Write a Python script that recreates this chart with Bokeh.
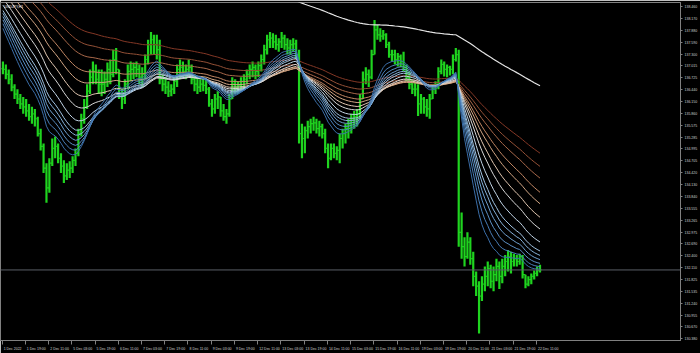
from bokeh.plotting import figure
from bokeh.models import Range1d, FixedTicker, Span, Label
from bokeh.embed import file_html
from bokeh.resources import INLINE

# ---------------- data ----------------
symbol = "USDJPY,H1"
bar_hours = 2            # each drawn bar groups two hourly bars
first_open = 136.95

high = [137.12,137.05,136.93,136.81,136.57,136.45,136.33,136.26,136.21,136.09,
        136.02,135.97,135.78,135.49,135.13,134.65,134.77,135.25,135.30,135.13,
        134.89,134.72,134.65,134.70,134.82,135.01,135.49,135.85,136.21,136.57,
        136.93,137.12,137.05,136.93,136.93,136.88,137.10,137.17,137.41,137.45,
        136.93,136.45,136.69,137.05,137.12,137.10,137.12,137.05,136.98,137.29,
        137.65,137.84,137.77,137.77,137.65,136.81,136.74,136.64,136.57,136.74,
        137.05,137.17,137.12,137.05,137.17,137.05,136.81,136.74,136.69,136.74,
        136.69,136.50,136.21,136.33,136.40,136.26,136.09,135.97,136.33,136.74,
        136.69,136.64,136.74,136.81,136.93,137.05,137.12,137.05,137.12,137.29,
        137.53,137.77,137.84,137.81,137.77,137.69,137.84,137.77,137.69,137.65,
        137.69,137.65,137.41,135.61,135.54,135.68,135.73,135.78,135.73,135.68,
        135.61,135.49,135.13,135.13,135.13,135.06,135.37,135.49,135.61,135.73,
        135.85,135.92,135.97,136.33,136.88,136.98,136.93,137.41,138.13,138.01,
        137.93,137.89,137.81,137.60,137.41,137.41,137.33,137.29,137.36,137.05,
        136.88,136.69,136.62,136.57,136.33,136.26,136.21,136.33,136.57,136.64,
        136.98,137.17,137.12,137.05,137.02,137.29,137.45,137.41,133.45,132.85,
        132.97,132.85,132.50,132.02,131.78,131.90,132.14,132.26,132.18,132.14,
        132.33,132.26,132.33,132.42,132.54,132.50,132.45,132.42,132.45,132.42,
        131.94,131.90,131.97,132.04,132.14,132.18]

low = [136.81,136.69,136.57,136.40,136.21,136.09,135.97,135.85,135.78,135.68,
       135.61,135.54,135.30,134.96,134.41,133.69,133.93,134.58,134.77,134.65,
       134.41,134.17,134.24,134.29,134.41,134.58,134.82,135.30,135.61,135.97,
       136.33,136.57,136.57,136.33,136.28,136.33,136.50,136.57,136.74,136.81,
       136.21,135.97,136.09,136.45,136.64,136.69,136.74,136.57,136.50,136.69,
       137.05,137.29,137.29,137.17,136.57,136.40,136.33,136.26,136.28,136.33,
       136.50,136.69,136.74,136.69,136.74,136.57,136.40,136.33,136.38,136.40,
       136.33,136.02,135.78,135.85,135.97,135.78,135.68,135.61,135.78,136.21,
       136.33,136.33,136.40,136.45,136.57,136.69,136.74,136.69,136.74,136.88,
       137.05,137.29,137.45,137.45,137.41,137.36,137.45,137.41,137.29,137.29,
       137.36,137.17,135.13,134.77,134.89,135.25,135.37,135.44,135.37,135.30,
       135.25,134.89,134.53,134.72,134.77,134.72,134.65,135.01,135.13,135.25,
       135.37,135.49,135.54,135.73,136.21,136.57,136.50,136.69,137.29,137.65,
       137.60,137.65,137.45,137.21,137.12,137.05,137.00,136.98,136.88,136.64,
       136.45,136.33,136.28,135.80,135.85,135.85,135.78,135.73,136.21,136.33,
       136.45,136.81,136.76,136.74,136.78,136.81,137.12,132.62,132.33,132.14,
       132.33,132.18,131.66,131.42,130.51,131.30,131.54,131.66,131.61,131.54,
       131.78,131.59,131.73,131.90,132.02,131.97,132.14,132.14,132.18,131.85,
       131.61,131.66,131.71,131.82,131.90,131.99]

close = [136.93,136.81,136.69,136.50,136.33,136.21,136.09,136.02,135.92,135.78,
         135.85,135.73,135.37,135.06,134.53,134.05,134.65,135.01,135.06,134.77,
         134.58,134.34,134.48,134.53,134.72,134.89,135.37,135.73,136.02,136.40,
         136.74,136.88,136.69,136.57,136.57,136.69,136.93,136.81,137.17,136.93,
         136.33,136.21,136.57,136.88,136.93,136.98,136.93,136.74,136.81,137.17,
         137.53,137.65,137.53,137.41,136.69,136.57,136.50,136.40,136.45,136.64,
         136.93,136.98,136.88,136.93,136.98,136.69,136.57,136.50,136.57,136.54,
         136.45,136.09,135.97,136.21,136.26,135.92,135.78,135.85,136.21,136.57,
         136.50,136.54,136.64,136.69,136.81,136.93,136.98,136.88,137.02,137.17,
         137.41,137.65,137.69,137.60,137.53,137.60,137.69,137.53,137.45,137.53,
         137.55,137.29,135.37,135.25,135.44,135.54,135.61,135.63,135.49,135.54,
         135.37,135.01,134.77,135.01,134.89,134.96,135.25,135.37,135.49,135.61,
         135.73,135.78,135.85,136.21,136.69,136.81,136.74,137.29,137.89,137.77,
         137.74,137.77,137.53,137.29,137.29,137.17,137.24,137.12,136.98,136.74,
         136.57,136.45,136.45,136.09,136.21,136.02,135.97,136.21,136.45,136.54,
         136.88,137.05,136.93,136.98,136.93,137.17,137.29,132.97,132.62,132.38,
         132.73,132.33,131.90,131.66,131.42,131.71,131.90,132.09,131.78,131.94,
         132.14,131.90,132.14,132.26,132.38,132.26,132.33,132.26,132.38,131.94,
         131.71,131.82,131.90,131.97,132.04,132.055]

# moving-average ribbon: periods in hours, value at the left edge, colour
ribbon_periods = [25, 30, 35, 40, 45, 50, 60, 75, 90, 110, 130, 160, 190, 230]
ribbon_start = [138.10, 138.20, 138.28, 138.35, 138.42, 138.48, 138.60,
                138.75, 138.90, 139.05, 139.15, 139.30, 139.40, 139.50]
ribbon_colors = ["#3b6ea8", "#4a7fb8", "#5b8fc4", "#6fa0cf", "#86b1d8", "#a0c2e0",
                 "#c2d5e6", "#d8d8d8", "#e0c6b0", "#d2a684", "#c08663", "#a8684a",
                 "#935036", "#843826"]
slow_period = 470
slow_start = 141.40

price_ticks = [138.460, 138.170, 137.880, 137.590, 137.300, 137.015, 136.725,
               136.440, 136.150, 135.860, 135.575, 135.285, 134.995, 134.705,
               134.420, 134.130, 133.840, 133.555, 133.265, 132.975, 132.690,
               132.400, 132.110, 131.825, 131.535, 131.240, 130.955, 130.670,
               130.380]
time_labels = ["1 Dec 2022", "1 Dec 19:00", "2 Dec 11:00", "5 Dec 03:00",
               "5 Dec 19:00", "6 Dec 11:00", "7 Dec 03:00", "7 Dec 19:00",
               "8 Dec 11:00", "9 Dec 03:00", "9 Dec 19:00", "12 Dec 11:00",
               "13 Dec 03:00", "13 Dec 19:00", "14 Dec 11:00", "15 Dec 03:00",
               "15 Dec 19:00", "16 Dec 11:00", "19 Dec 03:00", "19 Dec 19:00",
               "20 Dec 11:00", "21 Dec 03:00", "21 Dec 19:00", "22 Dec 11:00"]
hours_per_label = 16
last_price = 132.055

# ---------------- derived ----------------
n = len(close)
xb = [bar_hours * k + 0.5 for k in range(n)]
opens = [first_open] + close[:-1]


def ema(period, start):
    a = 1 - (1 - 2.0 / (period + 1)) ** bar_hours
    v = start
    out = []
    for c in close:
        v = v + a * (c - v)
        out.append(v)
    return out


# ---------------- figure ----------------
PX_PER_HOUR = 1.458
FRAME_W = 683
x0 = -1.7 / PX_PER_HOUR
x1 = x0 + FRAME_W / PX_PER_HOUR

p = figure(width=700, height=353, output_backend="svg", toolbar_location=None,
           x_range=Range1d(x0, x1), y_range=Range1d(130.34, 138.556),
           y_axis_location="right",
           background_fill_color="black", border_fill_color="black",
           outline_line_color="#808080", outline_line_width=1,
           min_border_left=0, min_border_right=17, min_border_top=2,
           min_border_bottom=8)
p.grid.visible = False

FONT = "Liberation Sans"
FS = "3.5px"

# price axis
ya = p.yaxis[0]
ya.ticker = FixedTicker(ticks=price_ticks)
ya.major_label_overrides = {t: f"{t:.3f}" for t in price_ticks}
ya.major_label_text_font = FONT
ya.major_label_text_font_size = FS
ya.major_label_text_color = "#d0d0d0"
ya.axis_line_color = "#808080"
ya.major_tick_line_color = "#808080"
ya.major_tick_out = 2
ya.major_tick_in = 0
ya.minor_tick_out = 0
ya.minor_tick_in = 0
ya.major_label_standoff = 2

# time axis: label drawn to the right of its tick
CW = {" ": .278, ":": .278, "D": .722, "e": .556, "c": .5}


def text_w(s):
    return sum(CW.get(ch, .556) for ch in s) * 3.5


tick_pos = [hours_per_label * j for j in range(len(time_labels))]
label_pos = [round(t + (1.5 + text_w(s) / 2) / PX_PER_HOUR, 2)
             for t, s in zip(tick_pos, time_labels)]
xa = p.xaxis[0]
xa.ticker = FixedTicker(ticks=label_pos, minor_ticks=tick_pos)
xa.major_label_overrides = {lp: s for lp, s in zip(label_pos, time_labels)}
xa.major_label_text_font = FONT
xa.major_label_text_font_size = FS
xa.major_label_text_color = "#d0d0d0"
xa.axis_line_color = "#808080"
xa.major_tick_out = 0
xa.major_tick_in = 0
xa.minor_tick_out = 4
xa.minor_tick_in = 0
xa.minor_tick_line_color = "#808080"
xa.major_label_standoff = 2

# current price line
p.add_layout(Span(location=last_price, dimension="width",
                  line_color="#5a5f66", line_width=1))

# price bars (OHLC)
BAR = "#1fd41f"
p.segment(x0=xb, y0=low, x1=xb, y1=high, line_color=BAR, line_width=2.2)
p.segment(x0=[x - 1.0 for x in xb], y0=opens, x1=xb, y1=opens,
          line_color=BAR, line_width=1.2)
p.segment(x0=xb, y0=close, x1=[x + 1.0 for x in xb], y1=close,
          line_color=BAR, line_width=1.2)

# moving averages (slowest drawn first)
for per, st, col in reversed(list(zip(ribbon_periods, ribbon_start, ribbon_colors))):
    p.line(xb, ema(per, st), line_color=col, line_width=1)
p.line(xb, ema(slow_period, slow_start), line_color="#e4e4e4", line_width=1.2)

# labels
p.add_layout(Label(x=x1 + 0.3, y=last_price, text=f"{last_price:.3f}",
                   text_font=FONT, text_font_size=FS, text_color="black",
                   text_baseline="middle", background_fill_color="white"))
p.add_layout(Label(x=x0 + 4 / PX_PER_HOUR, y=138.50, text=symbol,
                   text_font=FONT, text_font_size=FS, text_color="white",
                   text_baseline="top"))

open("out.html", "w").write(file_html(p, INLINE))
